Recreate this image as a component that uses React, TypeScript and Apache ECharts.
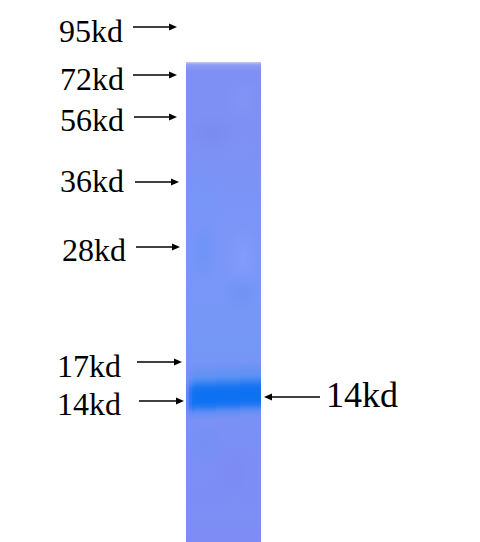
import React, { useEffect, useRef } from "react";
import * as echarts from "echarts";

const FONT = '"Liberation Serif", "Times New Roman", serif';

const markerLabels = ["95kd", "72kd", "56kd", "36kd", "28kd", "17kd", "14kd"];
const labelX = [59, 60, 60, 60, 62, 57, 57];
const labelBaseline = [43, 91, 132, 193, 262, 378, 416];
const arrowStartX = [133, 133, 134, 135, 136, 137, 139];
const arrowEndX = [177, 177, 177, 179, 180, 182, 184];
const arrowY = [27, 75, 117, 182, 247, 362, 401];

const targetLabel = "14kd";

// vertical colour profile of the lane: [offset, colour]
const laneStops: [number, string][] = [
  [0, "#c3c9f8"],
  [0.006, "#8f9cf3"],
  [0.02, "#7f90f4"],
  [0.15, "#7e90f3"],
  [0.3, "#7b94f7"],
  [0.42, "#7a96f8"],
  [0.6, "#7497f6"],
  [0.66, "#7a92f5"],
  [0.78, "#7a90f6"],
  [1, "#7e8df5"],
];

// soft patches on the lane: [cx, cy, rx, ry, colour]
const lanePatches: [number, number, number, number, string][] = [
  [208, 134, 30, 20, "rgba(112,128,232,0.28)"],
  [245, 100, 20, 22, "rgba(140,155,246,0.3)"],
  [200, 252, 20, 32, "rgba(88,146,248,0.4)"],
  [245, 258, 20, 34, "rgba(146,164,252,0.4)"],
  [245, 292, 22, 20, "rgba(96,140,240,0.35)"],
  [205, 195, 20, 38, "rgba(108,152,250,0.32)"],
  [235, 470, 26, 34, "rgba(130,130,240,0.32)"],
  [205, 445, 20, 22, "rgba(104,146,244,0.32)"],
];

// band: one entry per 3px column across the lane, from the left edge
const bandOpacity = [0.3, 0.75, 0.95, 1, 1, 1, 1, 1, 1, 1, 1, 1, 1, 1, 1, 1, 1, 1, 1, 1, 1, 1, 1, 1, 1];
const bandShift = [3, 2, 2, 1, 1, 1, 1, 1, 1, 1, 0, 0, 0, 0, 0, 0, 0, 0, -1, -1, -1, -1, -1, -1, -1];
// vertical profile of the band: [y offset from its top, colour]
const bandProfile: [number, string][] = [
  [0, "rgba(100,146,244,0)"],
  [7, "rgba(94,146,244,0.55)"],
  [14, "rgba(84,146,244,0.75)"],
  [19, "rgba(56,132,243,0.88)"],
  [24, "rgba(26,118,242,0.97)"],
  [29, "rgba(14,112,242,1)"],
  [39, "rgba(14,114,242,1)"],
  [44, "rgba(34,120,243,0.92)"],
  [49, "rgba(70,136,245,0.6)"],
  [58, "rgba(110,150,246,0)"],
];
const bandTop = 362;
const bandHeight = 58;

export default function App() {
  const ref = useRef<HTMLDivElement>(null);
  useEffect(() => {
    const chart = echarts.init(ref.current!, null, { renderer: "svg" });
    const elements: any[] = [
      { type: "rect", shape: { x: 0, y: 0, width: 480, height: 542 }, style: { fill: "#ffffff" } },
      {
        type: "rect",
        shape: { x: 186, y: 62, width: 75, height: 480 },
        style: {
          fill: {
            type: "linear", x: 0, y: 0, x2: 0, y2: 1,
            colorStops: laneStops.map(([offset, color]) => ({ offset, color })),
          },
        },
      },
    ];
    lanePatches.forEach(([cx, cy, rx, ry, color]) => {
      const left = Math.max(186, cx - rx);
      const right = Math.min(261, cx + rx);
      elements.push({
        type: "ellipse",
        shape: { cx: (left + right) / 2, cy, rx: (right - left) / 2, ry },
        style: {
          fill: {
            type: "radial", x: 0.5, y: 0.5, r: 0.5,
            colorStops: [
              { offset: 0, color },
              { offset: 1, color: color.replace(/[\d.]+\)$/, "0)") },
            ],
          },
        },
      });
    });
    bandOpacity.forEach((opacity, i) => {
      elements.push({
        type: "rect",
        shape: { x: 186 + i * 3, y: bandTop + bandShift[i], width: 3, height: bandHeight },
        style: {
          opacity,
          fill: {
            type: "linear", x: 0, y: 0, x2: 0, y2: 1,
            colorStops: bandProfile.map(([o, color]) => ({ offset: o / bandHeight, color })),
          },
        },
      });
    });

    const arrow = (x1: number, x2: number, y: number) => {
      const dir = x2 > x1 ? 1 : -1;
      elements.push({
        type: "line",
        shape: { x1, y1: y, x2: x2 - dir * 6, y2: y },
        style: { stroke: "#000000", lineWidth: 1.3 },
      });
      elements.push({
        type: "polygon",
        shape: { points: [[x2, y], [x2 - dir * 8, y - 3.5], [x2 - dir * 8, y + 3.5]] },
        style: { fill: "#000000" },
      });
    };

    markerLabels.forEach((text, i) => {
      elements.push({
        type: "text",
        style: {
          x: labelX[i], y: labelBaseline[i] + 4, text,
          font: `32px ${FONT}`, fill: "#000000",
          align: "left", verticalAlign: "bottom",
        },
      });
      arrow(arrowStartX[i], arrowEndX[i], arrowY[i]);
    });
    arrow(320, 264, 397);
    elements.push({
      type: "text",
      style: {
        x: 326, y: 413, text: targetLabel,
        font: `36px ${FONT}`, fill: "#000000",
        align: "left", verticalAlign: "bottom",
      },
    });

    chart.setOption({
      animation: false,
      graphic: { elements },
    });
    return () => chart.dispose();
  }, []);
  return <div ref={ref} style={{ position: "absolute", left: 0, top: 0, width: 480, height: 542 }} />;
}
